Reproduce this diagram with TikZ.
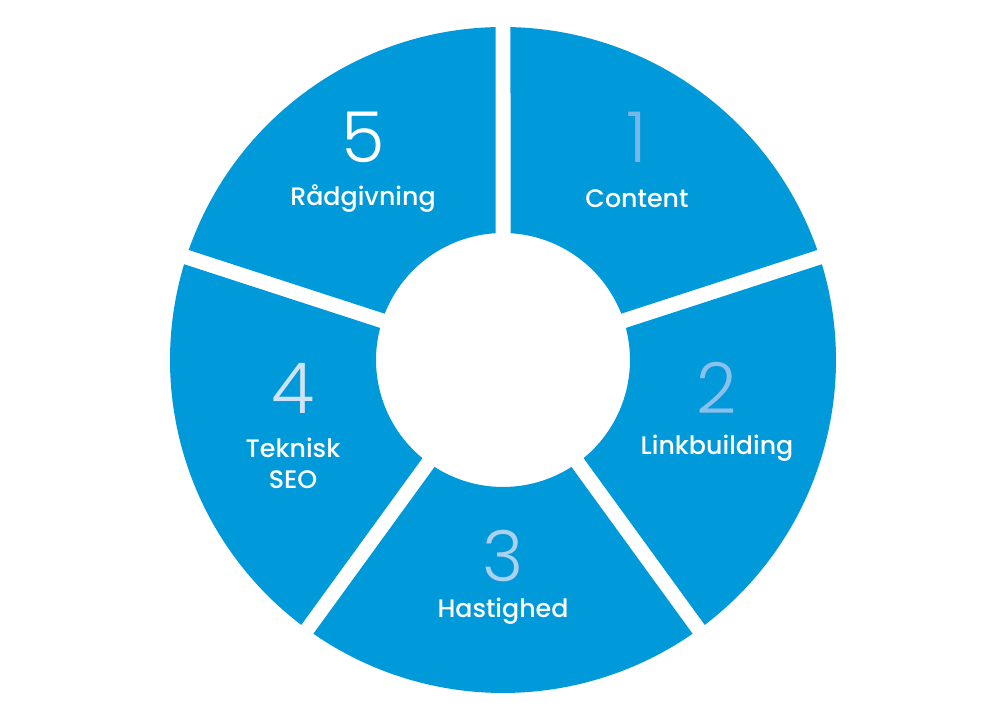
\documentclass[tikz,border=0pt]{standalone}
\usepackage{fontspec}
\newfontfamily\labfont{Poppins Medium}
\newfontfamily\numfont{Poppins Light}
\usepackage{tikz}
\usepackage{xcolor}
\definecolor{segblue}{RGB}{0,153,218}
\definecolor{numA}{RGB}{120,182,232}
\definecolor{numB}{RGB}{140,192,236}
\definecolor{numC}{RGB}{172,208,240}
\definecolor{numD}{RGB}{208,226,245}

\tikzset{
  seg/.style={fill=segblue},
  num/.style={font=\numfont\fontsize{50}{50}\selectfont, text=white, inner sep=0pt},
  lab/.style={font=\labfont\fontsize{18}{22}\selectfont, text=white, align=center, inner sep=0pt}
}

\begin{document}
\begin{tikzpicture}[x=0.025cm,y=0.025cm]
\useasboundingbox (0,0) rectangle (1008,721);

% ring of five segments
\begin{scope}[shift={(503,361)}]
  \def\R{333}
  \def\r{127}
  \pgfmathsetmacro\dout{asin(7.5/\R)}
  \pgfmathsetmacro\din{asin(7.5/\r)}
  \foreach \k in {1,...,5}{
    \pgfmathsetmacro\a{90-72*(\k-1)}
    \fill[seg] ({\a-\dout}:\R) arc[start angle=\a-\dout, end angle=\a-72+\dout, radius=\R]
      -- ({\a-72+\din}:\r) arc[start angle=\a-72+\din, end angle=\a-\din, radius=\r] -- cycle;
  }
\end{scope}

\node (num1) at (637,584) [num, text=numA] {1};
\node (lab1) at (637,522) [lab] {Content};

\node (num2) at (717,333) [num, text=numB] {2};
\node (lab2) at (717,273) [lab] {Linkbuilding};

\node (num3) at (503,165) [num, text=numC] {3};
\node (lab3) at (503,110) [lab] {Hastighed};

\node (num4) at (293,333) [num, text=numD] {4};
\node (lab4) at (293,258) [lab] {Teknisk\\SEO};

\node (num5) at (363,584) [num] {5};
\node (lab5) at (363,522) [lab] {Rådgivning};
\end{tikzpicture}
\end{document}
